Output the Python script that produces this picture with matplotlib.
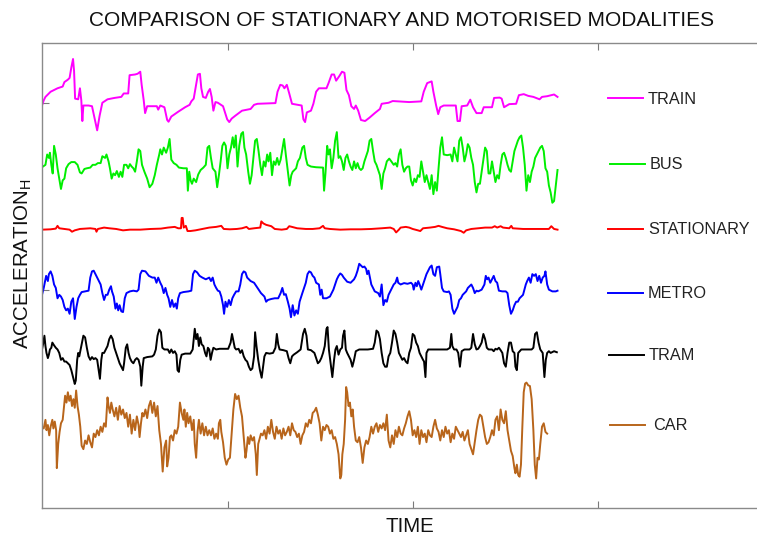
import matplotlib
matplotlib.use("Agg")
import matplotlib.pyplot as plt
import numpy as np

plt.rcParams['font.family'] = ['Liberation Sans', 'DejaVu Sans']

# ---- data: (time sample, acceleration deviation) pairs ----
train = [(35,-5),(40,10),(45,20),(60,35),(80,45),(95,50),(100,63),(110,70),(115,75),(120,105),(125,130),(128,95),(131,15),(140,13),(145,45),(149,10),(152,-50),(155,-5),(170,-5),(180,-7),(188,-45),(195,-77),(202,-35),(210,3),(225,13),(245,17),(265,20),(272,30),(285,30),(289,83),(305,85),(312,87),(320,93),(324,55),(330,10),(334,-27),(340,-7),(368,-7),(372,-17),(378,-5),(390,-10),(398,-47),(402,-52),(410,-37),(430,-23),(450,-10),(463,-3),(468,7),(475,15),(482,55),(487,85),(493,87),(497,45),(502,20),(510,17),(517,35),(522,43),(527,20),(532,-20),(538,5),(545,3),(560,-7),(572,-45),(578,-53),(585,-43),(595,-35),(615,-20),(640,-15),(650,-3),(660,0),(712,2),(718,35),(726,55),(733,53),(738,45),(745,55),(752,30),(760,0),(788,-5),(793,-45),(798,-53),(803,-25),(815,-20),(822,0),(830,35),(838,45),(860,45),(866,60),(875,85),(882,85),(888,67),(897,80),(905,93),(912,90),(918,40),(925,25),(932,-7),(940,-15),(945,-5),(952,-20),(960,-47),(972,-50),(985,-40),(1000,-27),(1015,-15),(1020,0),(1040,3),(1052,8),(1100,5),(1135,7),(1142,35),(1152,60),(1165,65),(1170,35),(1178,-5),(1184,-30),(1190,-10),(1200,-5),(1235,-5),(1240,-50),(1247,-50),(1252,-7),(1268,-5),(1277,12),(1285,-10),(1295,-27),(1310,-27),(1316,-10),(1340,-10),(1346,17),(1362,18),(1368,15),(1375,-10),(1390,-1),(1410,0),(1418,25),(1432,28),(1445,23),(1460,20),(1478,13),(1485,20),(1500,22),(1520,27),(1530,20)]

bus = [(35,3),(45,10),(50,40),(55,30),(58,45),(62,10),(66,-15),(70,65),(75,40),(80,0),(85,-30),(90,-60),(95,-35),(100,-30),(105,0),(112,12),(120,18),(130,18),(138,10),(145,-12),(150,-15),(158,-2),(165,0),(175,2),(182,10),(190,10),(197,15),(205,15),(210,35),(218,30),(222,40),(228,20),(232,0),(237,-30),(242,-15),(247,-20),(252,-8),(258,-25),(263,-10),(268,-25),(273,10),(280,10),(285,0),(290,12),(295,5),(300,0),(305,-10),(310,20),(315,55),(320,50),(325,10),(332,-10),(340,-30),(347,-55),(355,-45),(362,-20),(368,10),(375,40),(378,55),(383,40),(388,60),(395,45),(400,60),(405,85),(410,25),(417,15),(425,10),(432,2),(445,0),(455,0),(458,-65),(462,-10),(466,-35),(470,-45),(475,-30),(482,-40),(488,-18),(495,-5),(503,2),(510,10),(515,60),(520,65),(525,30),(530,0),(538,-10),(543,-55),(548,-20),(553,20),(558,65),(563,75),(568,65),(573,0),(578,40),(583,60),(588,90),(592,60),(597,95),(602,5),(607,65),(613,100),(618,105),(622,60),(627,40),(633,-10),(638,-45),(643,-20),(648,30),(653,80),(658,85),(663,50),(668,10),(673,-20),(678,20),(683,5),(688,40),(692,20),(697,45),(702,-20),(707,20),(712,10),(717,30),(722,10),(727,25),(732,55),(737,85),(742,40),(748,-10),(753,-50),(758,-20),(762,-10),(767,-5),(772,0),(777,20),(783,30),(790,60),(795,65),(800,30),(805,10),(815,5),(830,3),(850,2),(853,-65),(857,-15),(862,65),(866,40),(870,55),(875,0),(880,30),(885,80),(890,105),(895,30),(900,35),(905,20),(910,-5),(915,30),(920,40),(925,20),(930,5),(935,-5),(940,20),(945,0),(950,15),(955,0),(960,-5),(965,0),(970,20),(975,35),(980,50),(985,80),(990,85),(995,50),(1000,20),(1005,10),(1010,-5),(1015,-20),(1020,-60),(1025,-15),(1030,0),(1035,20),(1042,28),(1048,20),(1055,10),(1060,15),(1065,5),(1070,40),(1075,55),(1080,10),(1085,-10),(1090,0),(1095,5),(1100,5),(1105,-35),(1110,-50),(1115,-30),(1120,-40),(1125,-20),(1130,-25),(1135,20),(1140,-10),(1145,-40),(1150,-20),(1155,-40),(1160,-60),(1165,-20),(1170,-75),(1175,-40),(1180,-65),(1185,0),(1190,60),(1195,90),(1200,40),(1210,38),(1220,40),(1225,20),(1230,60),(1235,40),(1240,20),(1245,80),(1250,90),(1255,60),(1260,20),(1265,40),(1270,70),(1275,60),(1280,30),(1285,10),(1290,-40),(1295,-70),(1300,-45),(1305,-45),(1310,-10),(1315,25),(1320,60),(1325,50),(1330,-15),(1335,-15),(1340,20),(1345,-10),(1350,-40),(1355,-20),(1360,-30),(1365,10),(1370,40),(1375,45),(1380,30),(1385,10),(1390,-5),(1395,-10),(1400,20),(1405,50),(1410,65),(1415,80),(1420,90),(1425,95),(1430,60),(1435,10),(1440,-65),(1445,-20),(1450,-40),(1455,-10),(1460,5),(1465,30),(1470,40),(1475,50),(1480,60),(1485,65),(1490,50),(1495,0),(1500,-10),(1505,-50),(1510,-70),(1515,-100),(1520,-95),(1525,-50),(1530,-5)]

stationary = [(35,-1),(60,0),(75,2),(80,10),(85,3),(100,1),(115,-1),(122,-7),(130,-3),(145,1),(160,2),(175,3),(190,1),(193,-7),(197,1),(215,5),(230,3),(250,1),(270,-3),(290,-1),(320,-1),(350,1),(380,2),(400,5),(420,7),(430,3),(438,3),(440,33),(443,33),(446,5),(452,10),(457,-5),(465,-5),(480,-3),(500,1),(520,5),(540,7),(555,10),(562,1),(580,0),(600,1),(615,3),(628,7),(635,1),(650,3),(668,5),(671,23),(677,17),(685,13),(700,9),(710,1),(730,-1),(745,1),(752,9),(760,7),(775,3),(800,1),(820,1),(840,3),(850,10),(855,3),(870,1),(900,-1),(930,0),(960,0),(990,1),(1020,3),(1045,5),(1055,1),(1062,-9),(1070,-1),(1075,5),(1090,7),(1100,5),(1110,1),(1125,-3),(1132,-5),(1140,3),(1160,5),(1175,7),(1185,10),(1195,7),(1210,3),(1230,0),(1250,-5),(1258,-10),(1265,-3),(1280,1),(1300,3),(1320,5),(1340,5),(1348,9),(1355,5),(1365,9),(1372,5),(1390,3),(1396,10),(1400,3),(1430,1),(1460,1),(1490,1),(1505,1),(1512,9),(1520,1),(1530,-1)]

metro = [(35,-10),(40,10),(43,25),(47,45),(52,30),(55,50),(60,58),(65,45),(70,20),(75,10),(80,-20),(85,-10),(90,-15),(95,-25),(100,-45),(105,-55),(110,-50),(115,-65),(120,-30),(125,-20),(130,-80),(135,-45),(140,-20),(145,-10),(150,-2),(160,0),(170,2),(175,40),(180,58),(185,60),(190,50),(195,40),(200,30),(205,20),(210,-5),(215,-25),(220,-10),(225,-10),(230,5),(235,15),(238,0),(243,-15),(248,-50),(252,-35),(256,-55),(260,-40),(265,-58),(270,-60),(275,-20),(280,-5),(290,0),(300,2),(310,0),(315,5),(320,50),(325,60),(335,58),(345,45),(355,40),(362,40),(367,25),(372,40),(378,25),(383,15),(388,-5),(393,10),(398,-10),(402,-20),(407,-45),(412,-25),(417,-45),(422,-35),(426,-50),(430,-20),(435,-5),(445,-2),(460,0),(468,2),(473,50),(478,60),(485,55),(492,45),(500,40),(510,35),(520,40),(525,30),(530,40),(535,20),(540,10),(545,2),(550,0),(555,-15),(560,-40),(563,-65),(567,-30),(572,-45),(577,-25),(582,-40),(587,-20),(592,-10),(598,0),(605,0),(610,20),(615,50),(620,58),(625,55),(630,40),(640,30),(650,25),(660,10),(670,-5),(680,-15),(685,-30),(690,-25),(700,-22),(710,-20),(720,-20),(727,-5),(732,10),(737,-10),(742,-8),(748,-30),(753,-50),(757,-75),(762,-40),(767,-70),(772,-55),(777,-65),(782,-30),(790,-5),(800,25),(805,50),(810,58),(815,55),(820,45),(825,40),(830,25),(838,20),(842,-10),(846,5),(850,-20),(860,-20),(870,-15),(880,5),(885,20),(890,35),(895,45),(900,52),(905,48),(910,40),(920,28),(930,25),(940,35),(945,45),(950,60),(955,80),(960,75),(965,70),(970,72),(975,65),(978,50),(982,60),(986,40),(990,20),(1000,0),(1010,-5),(1015,-15),(1020,20),(1025,-40),(1030,-25),(1035,-30),(1040,-10),(1045,0),(1050,10),(1055,20),(1060,25),(1065,40),(1068,25),(1075,20),(1085,24),(1095,22),(1105,25),(1110,20),(1113,5),(1118,25),(1122,15),(1126,30),(1130,20),(1135,5),(1140,20),(1145,35),(1150,50),(1155,60),(1160,70),(1165,75),(1170,50),(1175,45),(1180,70),(1187,72),(1190,50),(1195,10),(1200,0),(1210,-2),(1215,0),(1220,-10),(1225,-50),(1230,-65),(1235,-55),(1240,-45),(1245,-25),(1250,-20),(1255,-10),(1260,-5),(1265,0),(1270,10),(1275,15),(1280,20),(1285,10),(1290,-5),(1295,2),(1300,0),(1310,5),(1318,20),(1322,45),(1326,35),(1330,40),(1335,25),(1340,35),(1345,45),(1350,30),(1355,25),(1360,2),(1370,0),(1380,0),(1385,-5),(1390,-40),(1395,-65),(1400,-55),(1405,-40),(1410,-30),(1415,-30),(1420,-20),(1430,-10),(1438,20),(1442,30),(1447,40),(1452,25),(1457,50),(1462,45),(1467,50),(1472,30),(1477,45),(1482,25),(1487,40),(1492,45),(1495,58),(1500,20),(1505,5),(1515,0),(1525,0),(1530,2)]

tram = [(35,0),(38,15),(42,40),(45,10),(48,-10),(52,-25),(55,-15),(58,0),(62,5),(65,20),(70,12),(75,5),(80,0),(85,-10),(90,-30),(95,-25),(100,-35),(105,-35),(110,-40),(115,-45),(120,-60),(125,-80),(130,-100),(133,-90),(137,-30),(140,-10),(143,-20),(147,0),(150,15),(155,40),(160,35),(165,5),(170,-20),(175,-30),(180,-22),(185,-28),(190,-25),(195,-30),(200,-65),(203,-85),(207,-30),(210,-10),(215,-10),(220,0),(225,10),(230,30),(235,40),(240,30),(245,5),(250,-10),(255,-25),(260,-40),(265,-50),(270,-60),(273,-40),(278,5),(282,15),(286,-10),(290,-25),(295,-35),(300,-40),(305,-30),(310,-25),(315,-30),(320,-50),(323,-105),(327,-50),(330,-25),(340,-22),(355,-20),(360,-15),(365,0),(370,40),(375,58),(380,50),(384,5),(390,0),(400,0),(405,-10),(410,0),(415,-10),(420,-5),(425,-15),(428,-60),(432,-65),(436,-30),(440,-15),(450,-12),(465,-12),(472,0),(478,60),(482,30),(486,45),(490,10),(494,35),(498,15),(503,10),(508,-10),(512,-20),(516,5),(520,0),(524,-30),(528,-10),(532,5),(540,0),(550,2),(560,2),(575,2),(582,20),(586,45),(590,25),(594,5),(598,0),(605,2),(610,-10),(615,-2),(620,-20),(625,-30),(630,-35),(635,-50),(640,-60),(645,-55),(650,-20),(653,50),(657,10),(662,-30),(667,-60),(672,-82),(676,-50),(680,-20),(685,-10),(695,-12),(705,-10),(712,5),(716,45),(720,15),(724,0),(735,-2),(745,-5),(750,-25),(755,-40),(760,-20),(765,-15),(775,-8),(785,0),(792,45),(797,60),(802,40),(806,0),(815,-2),(825,-10),(830,-25),(835,-40),(840,-35),(845,-25),(850,-10),(855,10),(860,60),(863,65),(867,0),(872,-40),(877,-80),(882,-30),(886,0),(890,10),(895,-15),(900,0),(905,5),(908,40),(912,55),(916,0),(920,-10),(925,-20),(930,-30),(935,-50),(940,-30),(945,-5),(955,0),(980,0),(995,2),(1000,20),(1005,55),(1010,50),(1015,30),(1020,-10),(1025,-40),(1030,-50),(1035,-50),(1040,-20),(1045,-10),(1050,20),(1055,55),(1060,45),(1065,20),(1070,-10),(1075,-20),(1080,-30),(1085,-25),(1090,-35),(1095,-40),(1100,-10),(1105,5),(1110,45),(1115,40),(1120,20),(1125,10),(1130,-10),(1135,-20),(1140,-30),(1143,-35),(1147,-80),(1150,-10),(1155,0),(1170,0),(1190,0),(1210,0),(1218,5),(1222,45),(1225,10),(1230,0),(1237,0),(1242,-10),(1247,-50),(1252,-5),(1260,0),(1275,0),(1280,5),(1285,45),(1290,15),(1295,0),(1300,2),(1305,10),(1310,20),(1315,45),(1320,30),(1325,5),(1330,0),(1340,0),(1345,-5),(1350,2),(1355,0),(1360,5),(1365,-2),(1370,-10),(1375,-40),(1380,-50),(1385,-10),(1390,20),(1395,20),(1400,-5),(1405,-10),(1408,-50),(1412,-60),(1416,-10),(1425,0),(1440,0),(1455,0),(1460,5),(1465,45),(1470,50),(1475,20),(1480,0),(1487,-10),(1492,-80),(1496,-30),(1500,-10),(1505,-5),(1510,-10),(1520,-5),(1528,-8)]

car = [(35,0),(40,-5),(45,20),(48,-10),(52,5),(56,-25),(60,0),(65,20),(68,-5),(72,15),(76,-10),(78,-120),(82,-50),(86,-15),(90,10),(95,20),(98,50),(102,90),(106,70),(110,100),(114,75),(118,90),(122,60),(126,80),(130,55),(134,105),(138,60),(142,35),(146,0),(150,-55),(155,-65),(160,-40),(165,-50),(170,-25),(175,-45),(180,-60),(185,-20),(190,-30),(195,-10),(200,-25),(205,0),(210,-15),(215,10),(220,0),(225,85),(228,60),(232,40),(236,70),(240,50),(245,30),(250,55),(255,20),(260,60),(265,35),(270,50),(275,25),(280,40),(285,0),(290,35),(295,-20),(300,20),(305,-10),(310,30),(315,5),(318,-30),(322,10),(326,40),(330,30),(335,50),(340,25),(345,60),(350,75),(355,40),(360,70),(365,30),(370,60),(375,-10),(380,-50),(385,-130),(390,-60),(395,-40),(398,-115),(402,-90),(406,-30),(410,-25),(415,-40),(420,-10),(425,-20),(430,0),(435,70),(440,40),(445,20),(448,50),(452,0),(456,40),(460,10),(465,30),(470,-10),(475,20),(478,-50),(482,-90),(486,-15),(490,20),(495,-20),(500,10),(505,-25),(510,0),(515,-25),(520,-10),(525,-25),(530,-5),(535,-35),(540,-20),(545,-35),(548,10),(552,20),(555,-15),(560,-45),(565,-90),(570,-110),(575,-95),(580,-90),(585,-20),(590,50),(595,95),(600,80),(605,90),(610,55),(615,30),(620,-30),(625,-90),(628,-70),(632,-30),(636,-50),(640,-25),(645,-40),(650,-30),(655,-80),(658,-140),(662,-50),(666,-35),(670,-20),(675,-25),(680,-10),(685,-35),(690,0),(695,-20),(700,20),(705,-15),(710,-35),(715,0),(720,-20),(725,-10),(730,-35),(735,-5),(740,-25),(745,-15),(750,0),(755,-25),(760,10),(765,-10),(770,-15),(775,-30),(780,-20),(785,-50),(790,-25),(795,-15),(800,10),(805,0),(810,20),(815,10),(820,40),(825,45),(830,55),(835,35),(840,10),(845,-40),(850,0),(855,-10),(860,5),(865,0),(870,-20),(875,-10),(880,-35),(885,-30),(890,-50),(895,-80),(900,-150),(903,-140),(906,-80),(910,-50),(914,20),(917,115),(920,100),(924,60),(928,70),(932,30),(936,50),(940,0),(945,-40),(950,-45),(955,-30),(960,-60),(965,-105),(970,-60),(975,-40),(980,-50),(985,-30),(990,0),(995,-20),(1000,0),(1005,10),(1010,-15),(1015,5),(1020,-5),(1025,10),(1030,-10),(1035,35),(1040,-40),(1045,-60),(1050,-25),(1055,-50),(1060,-10),(1065,-30),(1070,0),(1075,-20),(1080,-25),(1085,-5),(1090,10),(1095,30),(1100,45),(1105,20),(1110,-25),(1115,-10),(1120,-30),(1125,0),(1130,-50),(1135,-10),(1140,-30),(1145,-20),(1150,-45),(1155,-10),(1160,-25),(1165,-30),(1170,0),(1175,20),(1180,-5),(1185,-15),(1190,-40),(1195,-10),(1200,-30),(1205,0),(1210,-20),(1215,-10),(1220,-45),(1225,-20),(1230,-35),(1235,0),(1240,-10),(1245,-20),(1250,-30),(1255,-15),(1260,-40),(1265,-25),(1270,-10),(1275,-50),(1280,-65),(1285,-80),(1290,-45),(1295,-10),(1300,20),(1305,35),(1310,30),(1315,0),(1320,-30),(1325,-50),(1330,-45),(1335,-30),(1340,-10),(1345,-25),(1350,20),(1355,30),(1360,-10),(1365,50),(1370,20),(1375,10),(1380,45),(1385,-10),(1390,-40),(1395,-70),(1400,-85),(1405,-120),(1408,-135),(1412,-110),(1416,-140),(1420,-145),(1424,-110),(1428,0),(1432,100),(1436,125),(1440,128),(1445,120),(1450,118),(1455,80),(1460,-10),(1464,-110),(1468,-150),(1472,-90),(1476,-95),(1480,-50),(1485,0),(1490,10),(1495,-15),(1500,-20)]

labels = ['TRAIN', 'BUS', 'STATIONARY', 'METRO', 'TRAM', 'CAR']
series = [train, bus, stationary, metro, tram, car]

# ---- layout / style ----
offsets = [1172.2, 985.2, 808.2, 628.2, 459.7, 235.7]
colors = ['#ff00ff', '#00ee00', '#ff0000', '#0000ff', '#000000', '#b8651b']
W, H = 757, 535
fig = plt.figure(figsize=(W / 100, H / 100), dpi=100)
ax = fig.add_axes([42 / W, (H - 508) / H, 740 / W, 465 / H])

for pts, off, col in zip(series, offsets, colors):
    t = np.array([p[0] for p in pts], dtype=float)
    v = np.array([p[1] for p in pts], dtype=float)
    ax.plot(t, v + off, color=col, lw=1.4, solid_joinstyle='round')

ax.set_xlim(35, 2181)
ax.set_ylim(0, 1348.5)
ax.set_xticks([574, 1110, 1646])
ax.set_yticks([632.2, 1174.5])
ax.tick_params(axis='both', direction='in', labelbottom=False, labelleft=False,
               top=True, right=True, length=5, width=0.8, color='#7a7a7a')
for s in ax.spines.values():
    s.set_color('#8a8a8a')
    s.set_linewidth(1.0)

fig.text(401.5 / W, 1 - 20 / H, 'COMPARISON OF STATIONARY AND MOTORISED MODALITIES',
         ha='center', va='center', fontsize=15, color='#111111')
fig.text(410 / W, 1 - 527 / H, 'TIME', ha='center', va='center', fontsize=14.8, color='#111111')
fig.text(23 / W, 1 - 264 / H, r'ACCELERATION$_\mathregular{H}$', ha='center', va='center',
         rotation=90, fontsize=14.8, color='#111111')

# labels at right
leg_y = [98, 164, 229, 293, 355, 425]
leg_x0 = [608, 610, 608, 608, 609, 610]
leg_tx = [648, 650, 648, 648, 649, 653]
for lab, col, y, x0, tx in zip(labels, colors, leg_y, leg_x0, leg_tx):
    fig.add_artist(plt.Line2D([x0 / W, (x0 + 35) / W], [1 - y / H, 1 - y / H],
                              transform=fig.transFigure, color=col, lw=1.4))
    fig.text(tx / W, 1 - (y + 1) / H, lab, ha='left', va='center', fontsize=11.7, color='#222222')

fig.savefig('out.png', dpi=100)
